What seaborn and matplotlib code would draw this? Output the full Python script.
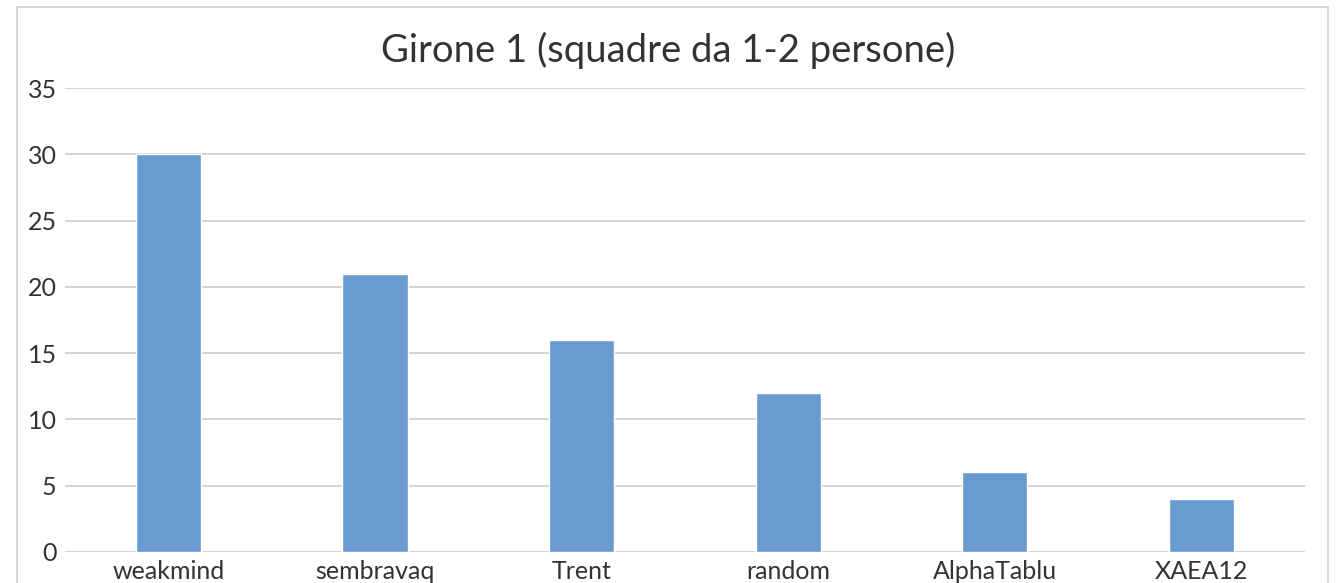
import matplotlib
matplotlib.use("Agg")
import matplotlib.pyplot as plt
import seaborn as sns
import pandas as pd
from matplotlib.patches import Rectangle

teams = ["weakmind", "sembravaq", "Trent", "random", "AlphaTablu", "XAEA12"]
punti = [30, 21, 16, 12, 6, 4]
y_ticks = [0, 5, 10, 15, 20, 25, 30, 35]

sns.set_style("white")
plt.rcParams['font.family'] = ['Lato', 'DejaVu Sans']

df = pd.DataFrame({"team": teams, "punti": punti})

fig = plt.figure(figsize=(13.37, 5.83), dpi=100)
ax = fig.add_axes([0.0486, 0.0532, 0.9274, 0.7958])

sns.barplot(data=df, x="team", y="punti", color="#6A9BD0", width=0.315,
            saturation=1, ax=ax)

ax.set_ylim(0, 35)
ax.set_xlim(-0.5, len(teams) - 0.5)
ax.set_yticks(y_ticks)
ax.yaxis.grid(True, color="#D4D4D4", linewidth=1.4)
ax.set_axisbelow(True)
for s in ax.spines.values():
    s.set_visible(False)
ax.axhline(0, color="#D4D4D4", linewidth=1.4, zorder=0)

ax.tick_params(axis="y", length=0, pad=6, labelsize=18, labelcolor="#333333")
ax.tick_params(axis="x", length=0, pad=6, labelsize=18, labelcolor="#333333")
ax.set_xlabel("")
ax.set_ylabel("")

fig.text(0.5, 0.913, "Girone 1 (squadre da 1-2 persone)", ha="center", va="center",
         fontsize=27.5, color="#333333")

# chart frame
fig.patches.append(Rectangle((17 / 1337, -0.05), (1328 - 17) / 1337, 1.05 - 7 / 583,
                             transform=fig.transFigure, fill=False,
                             edgecolor="#D0D0D0", linewidth=1.2))

fig.savefig("out.png", dpi=100)
